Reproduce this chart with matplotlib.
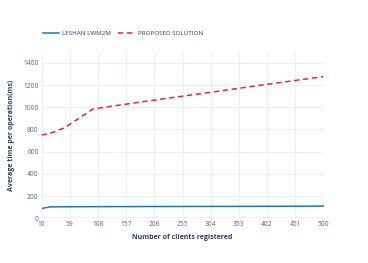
import matplotlib
matplotlib.use("Agg")
import matplotlib.pyplot as plt

# Data
x_ticks = [10, 59, 108, 157, 206, 255, 304, 353, 402, 451, 500]
y_ticks = [0, 200, 400, 600, 800, 1000, 1200, 1400]

leshan_x = [10, 25, 100, 200, 300, 400, 500]
leshan_y = [88, 103, 105, 106, 107, 108, 110]

proposed_x = [10, 25, 50, 75, 100, 200, 300, 400, 500]
proposed_y = [750, 765, 815, 900, 985, 1060, 1132, 1205, 1276]

W, H = 368, 263
fig = plt.figure(figsize=(W / 100, H / 100), dpi=100)
fig.patch.set_facecolor("white")
ax = fig.add_axes([41.5 / W, 1 - 218.3 / H, (323.5 - 41.5) / W, (218.3 - 51.7) / H])
ax.set_facecolor("white")

font = "Open Sans"
tick_color = "#506784"
title_color = "#2a3f5f"
grid_color = "#ebf0f8"

ax.plot(leshan_x, leshan_y, color="#1f77b4", linewidth=1.1, label="LESHAN LWM2M", zorder=3)
ax.plot(proposed_x, proposed_y, color="#e8262b", linewidth=1.1, linestyle=(0, (3.5, 2.4)),
        label="PROPOSED SOLUTION", zorder=3)

ax.set_xlim(10, 500)
ax.set_ylim(0, 1500)
ax.set_xticks(x_ticks)
ax.set_yticks(y_ticks)
ax.grid(True, color=grid_color, linewidth=0.8, zorder=0)
ax.axhline(0, color=grid_color, linewidth=1.5, zorder=1)
for s in ax.spines.values():
    s.set_visible(False)
ax.tick_params(length=0, pad=2, labelsize=4.8, labelcolor=tick_color)
for lbl in ax.get_xticklabels() + ax.get_yticklabels():
    lbl.set_fontfamily(font)

ax.set_xlabel("Number of clients registered", fontsize=5.0, fontweight="bold",
              color=title_color, family=font)
ax.xaxis.set_label_coords((182.5 - 41.5) / (323.5 - 41.5), -(237.7 - 218.3) / (218.3 - 51.7))
ax.xaxis.label.set_va("center")
ax.set_ylabel("Average time per operation(ms)", fontsize=5.0, fontweight="bold",
              color=title_color, family=font)
ax.yaxis.set_label_coords(-(41.5 - 12) / (323.5 - 41.5), (218.3 - 135) / (218.3 - 51.7))
ax.yaxis.label.set_va("center")

leg = fig.legend(loc="center left", bbox_to_anchor=(43 / W, 1 - 33 / H), ncol=2, frameon=False,
                 prop={"family": font, "size": 4.5}, handlelength=2.5, handletextpad=0.55,
                 columnspacing=1.2, borderaxespad=0, borderpad=0)
for t in leg.get_texts():
    t.set_color(title_color)

fig.savefig("out.png", dpi=100)
